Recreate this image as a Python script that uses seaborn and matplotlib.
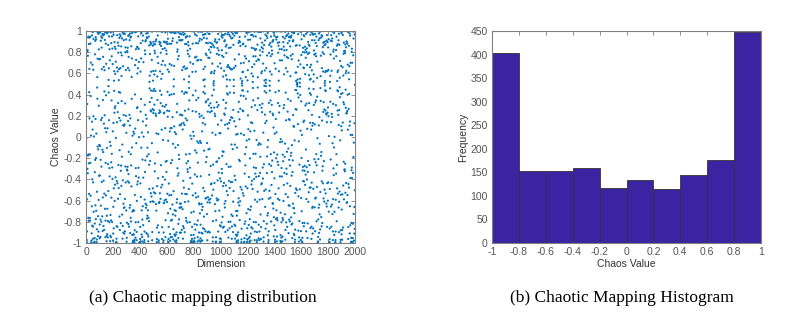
import numpy as np
import matplotlib
matplotlib.use("Agg")
import matplotlib.pyplot as plt
import seaborn as sns

# ---- data ----
# (a) chaotic sequence: Chebyshev-type chaotic map, 2000 dimensions
n_dims = 2000
x0 = 0.7123
chaos = [x0]
for _ in range(n_dims - 1):
    chaos.append(1.0 - 2.0 * chaos[-1] ** 2)
dimension = list(range(1, n_dims + 1))

# (b) histogram counts
bin_edges = [-1.0, -0.8, -0.6, -0.4, -0.2, 0.0, 0.2, 0.4, 0.6, 0.8, 1.0]
counts = [403, 153, 152, 160, 116, 133, 115, 145, 176, 447]

left_xticks = [0, 200, 400, 600, 800, 1000, 1200, 1400, 1600, 1800, 2000]
left_yticks = [-1, -0.8, -0.6, -0.4, -0.2, 0, 0.2, 0.4, 0.6, 0.8, 1]
right_xticks = [-1, -0.8, -0.6, -0.4, -0.2, 0, 0.2, 0.4, 0.6, 0.8, 1]
right_yticks = [0, 50, 100, 150, 200, 250, 300, 350, 400, 450]

caption_a = "(a) Chaotic mapping distribution"
caption_b = "(b) Chaotic Mapping Histogram"

# ---- style ----
sns.set_theme(style="white")
plt.rcParams["font.family"] = ["Liberation Sans", "DejaVu Sans"]
tick_col = "#555555"
frame_col = "#808080"

W, H = 800, 331
fig = plt.figure(figsize=(W / 100, H / 100), dpi=100)

def px_axes(x0p, y0p, x1p, y1p):
    return fig.add_axes([x0p / W, 1 - y1p / H, (x1p - x0p) / W, (y1p - y0p) / H])

def style_axes(ax):
    for s in ax.spines.values():
        s.set_color(frame_col)
        s.set_linewidth(0.8)
    ax.tick_params(direction="in", length=3, width=0.6, color=frame_col,
                   labelsize=7.5, labelcolor=tick_col, top=True, right=True,
                   bottom=True, left=True, pad=3)

def fmt(v):
    return "%g" % v

# (a) scatter
ax1 = px_axes(86, 31, 355, 243)
sns.scatterplot(x=dimension, y=chaos, ax=ax1, s=2.5, color="#0072BD",
                edgecolor="none", linewidth=0)
ax1.set_xlim(0, 2000)
ax1.set_ylim(-1, 1)
ax1.set_xticks(left_xticks)
ax1.set_xticklabels([fmt(v) for v in left_xticks])
ax1.set_yticks(left_yticks)
ax1.set_yticklabels([fmt(v) for v in left_yticks])
ax1.set_xlabel("Dimension", fontsize=7.5, color="#333333", labelpad=1)
ax1.set_ylabel("Chaos Value", fontsize=7.5, color="#333333", labelpad=2)
style_axes(ax1)

# (b) histogram from counts
ax2 = px_axes(492, 31, 761, 243)
centers = [(bin_edges[i] + bin_edges[i + 1]) / 2 for i in range(len(counts))]
sns.histplot(x=centers, weights=counts, bins=bin_edges, ax=ax2,
             color="#3A24A2", alpha=1.0, edgecolor="#333333", linewidth=0.6)
ax2.set_xlim(-1, 1)
ax2.set_ylim(0, 450)
ax2.set_xticks(right_xticks)
ax2.set_xticklabels([fmt(v) for v in right_xticks])
ax2.set_yticks(right_yticks)
ax2.set_yticklabels([fmt(v) for v in right_yticks])
ax2.set_xlabel("Chaos Value", fontsize=7.5, color="#333333", labelpad=1)
ax2.set_ylabel("Frequency", fontsize=7.5, color="#333333", labelpad=2)
style_axes(ax2)

# captions
fig.text(203 / W, 1 - 298 / H, caption_a, ha="center", va="center",
         fontsize=12.5, family=["Liberation Serif", "DejaVu Serif"], color="black")
fig.text(622 / W, 1 - 298 / H, caption_b, ha="center", va="center",
         fontsize=12.5, family=["Liberation Serif", "DejaVu Serif"], color="black")

fig.savefig("out.png", dpi=100, facecolor="white")
